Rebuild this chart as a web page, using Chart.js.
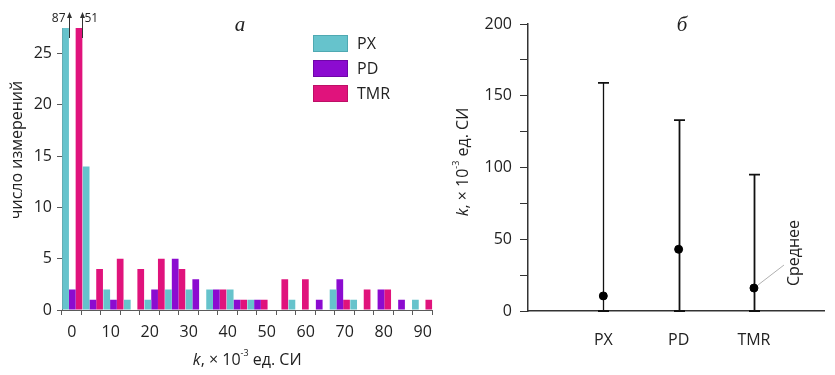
<!DOCTYPE html>
<html lang="ru">
<head>
<meta charset="UTF-8">
<title>Магнитная восприимчивость</title>
<script src="https://cdn.jsdelivr.net/npm/chart.js@4.4.0/dist/chart.umd.min.js"></script>
<style>
    body { margin: 0; background: #fff; }
    .box { position: absolute; top: 0; height: 375px; }
    #left { left: 0; width: 440px; }
    #right { left: 440px; width: 395px; }
</style>
</head>
<body>
<div class="box" id="left"><canvas id="grafHist" width="440" height="375"></canvas></div>
<div class="box" id="right"><canvas id="grafRango" width="395" height="375"></canvas></div>

<script>
// --- данные гистограммы (а) ---
const binStarts = [0, 5, 10, 15, 20, 25, 30, 35, 40, 45, 50, 55, 60, 65, 70, 75, 80, 85];
const seriesNames = ['PX', 'PD', 'TMR'];
const countsPX  = [87, 14, 2, 1, 1, 2, 2, 2, 2, 1, 0, 1, 0, 2, 1, 0, 0, 1];
const countsPD  = [2, 1, 1, 0, 2, 5, 3, 2, 1, 1, 0, 0, 1, 3, 0, 2, 1, 0];
const countsTMR = [51, 4, 5, 4, 5, 4, 0, 2, 1, 1, 3, 3, 0, 1, 2, 2, 0, 1];
const histXMax = 90;
const histYMax = 27.5;

// --- данные диаграммы размаха (б) ---
const groups = ['PX', 'PD', 'TMR'];
const meanK = [10.5, 43, 16];
const maxK  = [159, 133, 95];
const minK  = [0, 0, 0];

const colores = ['#66c3cc', '#8c0bd0', '#e0137c'];
const bordes  = ['#4fa9b2', '#6e06a8', '#bd0f66'];
const FONT = "'Open Sans', 'Noto Sans', sans-serif";

// подпись "k, × 10^-3 ед. СИ" с курсивной k и степенью
function drawKTitle(ctx, cx, cy, rotated) {
    const parts = [
        { t: 'k', f: 'italic 16px ' + FONT, dy: 0 },
        { t: ', × 10', f: '16px ' + FONT, dy: 0 },
        { t: '-3', f: '9px ' + FONT, dy: -7 },
        { t: ' ед. СИ', f: '16px ' + FONT, dy: 0 }
    ];
    ctx.save();
    let total = 0;
    parts.forEach(p => { ctx.font = p.f; p.w = ctx.measureText(p.t).width; total += p.w; });
    ctx.translate(cx, cy);
    if (rotated) ctx.rotate(-Math.PI / 2);
    ctx.fillStyle = '#222';
    ctx.textBaseline = 'middle';
    let x = -total / 2;
    parts.forEach(p => {
        ctx.font = p.f;
        ctx.fillText(p.t, x, p.dy);
        x += p.w;
    });
    ctx.restore();
}

function drawRotated(ctx, text, cx, cy, font) {
    ctx.save();
    ctx.translate(cx, cy);
    ctx.rotate(-Math.PI / 2);
    ctx.font = font;
    ctx.fillStyle = '#222';
    ctx.textAlign = 'center';
    ctx.textBaseline = 'middle';
    ctx.fillText(text, 0, 0);
    ctx.restore();
}

function drawPanelLetter(ctx, letter, x, y) {
    ctx.save();
    ctx.font = "italic 21px 'Liberation Serif', 'DejaVu Serif', serif";
    ctx.fillStyle = '#222';
    ctx.textAlign = 'center';
    ctx.textBaseline = 'middle';
    ctx.fillText(letter, x, y);
    ctx.restore();
}

// плагин для гистограммы: стрелки у обрезанных столбцов, легенда, подписи
const histExtras = {
    id: 'histExtras',
    afterDatasetsDraw(chart) {
        const ctx = chart.ctx;
        const top = chart.chartArea.top;
        ctx.save();
        chart.data.datasets.forEach((ds, di) => {
            const meta = chart.getDatasetMeta(di);
            ds.data.forEach((v, i) => {
                if (v <= histYMax) return;
                const el = meta.data[i];
                const ax = Math.round(el.x + el.width / 2) + 0.5;
                ctx.strokeStyle = '#333';
                ctx.fillStyle = '#333';
                ctx.lineWidth = 1;
                ctx.beginPath();
                ctx.moveTo(ax, top + 10);
                ctx.lineTo(ax, top - 13);
                ctx.stroke();
                ctx.beginPath();
                ctx.moveTo(ax, top - 16);
                ctx.lineTo(ax - 2.5, top - 10);
                ctx.lineTo(ax + 2.5, top - 10);
                ctx.closePath();
                ctx.fill();
                ctx.font = '12px ' + FONT;
                ctx.fillStyle = '#222';
                ctx.textBaseline = 'middle';
                if (di === 0) {
                    ctx.textAlign = 'right';
                    ctx.fillText(String(v), ax - 4, top - 9);
                } else {
                    ctx.textAlign = 'left';
                    ctx.fillText(String(v), ax + 2, top - 9);
                }
            });
        });
        ctx.restore();
    },
    afterDraw(chart) {
        const ctx = chart.ctx;
        const area = chart.chartArea;
        // легенда
        ctx.save();
        chart.data.datasets.forEach((ds, i) => {
            const y = 35 + i * 25;
            ctx.fillStyle = ds.backgroundColor;
            ctx.fillRect(313, y, 35, 17);
            ctx.strokeStyle = ds.borderColor;
            ctx.lineWidth = 1;
            ctx.strokeRect(313.5, y + 0.5, 34, 16);
            ctx.font = '16px ' + FONT;
            ctx.fillStyle = '#222';
            ctx.textAlign = 'left';
            ctx.textBaseline = 'middle';
            ctx.fillText(ds.label, 357, y + 9);
        });
        ctx.restore();
        drawRotated(ctx, 'число измерений', 17.5, 150, '16px ' + FONT);
        drawKTitle(ctx, (area.left + area.right) / 2, 360, false);
        drawPanelLetter(ctx, 'а', 240, 25);
    }
};

// плагин для (б): вертикальные отрезки min–max с засечками, подписи
const rangeExtras = {
    id: 'rangeExtras',
    beforeDatasetsDraw(chart) {
        const ctx = chart.ctx;
        const xs = chart.scales.x, ys = chart.scales.y;
        ctx.save();
        ctx.strokeStyle = '#111';
        groups.forEach((g, i) => {
            const x = Math.round(xs.getPixelForValue(i + 1)) + 0.5;
            const y1 = ys.getPixelForValue(minK[i]);
            const y2 = ys.getPixelForValue(maxK[i]);
            ctx.lineWidth = i === 0 ? 1.3 : 1.8;
            ctx.beginPath();
            ctx.moveTo(x, y1);
            ctx.lineTo(x, y2);
            ctx.stroke();
            ctx.lineWidth = 1.8;
            ctx.beginPath();
            ctx.moveTo(x - 5.5, y2);
            ctx.lineTo(x + 5.5, y2);
            ctx.moveTo(x - 5.5, y1);
            ctx.lineTo(x + 5.5, y1);
            ctx.stroke();
        });
        ctx.restore();
    },
    afterDraw(chart) {
        const ctx = chart.ctx;
        const xs = chart.scales.x, ys = chart.scales.y;
        const last = groups.length - 1;
        const px = xs.getPixelForValue(last + 1);
        const py = ys.getPixelForValue(meanK[last]);
        ctx.save();
        ctx.strokeStyle = '#b0b0b0';
        ctx.lineWidth = 1;
        ctx.beginPath();
        ctx.moveTo(px + 4, py - 3);
        ctx.lineTo(px + 30, py - 23);
        ctx.stroke();
        ctx.restore();
        drawRotated(ctx, 'Среднее', px + 40, py - 35, '16px ' + FONT);
        drawKTitle(ctx, 23, 162, true);
        drawPanelLetter(ctx, 'б', 242, 25);
    }
};

const histDatasets = [countsPX, countsPD, countsTMR].map((d, i) => ({
    label: seriesNames[i],
    data: d,
    backgroundColor: colores[i],
    borderColor: bordes[i],
    borderWidth: 0,
    barPercentage: 1,
    categoryPercentage: 0.98,
    clip: 0
}));

new Chart(document.getElementById('grafHist'), {
    type: 'bar',
    data: { labels: binStarts, datasets: histDatasets },
    options: {
        responsive: false,
        animation: false,
        layout: { padding: { top: 28, right: 5, left: 0, bottom: 0 } },
        plugins: { legend: { display: false }, tooltip: { enabled: false } },
        scales: {
            x: { type: 'category', display: false, offset: true },
            x2: {
                type: 'linear',
                position: 'bottom',
                min: 0,
                max: histXMax,
                afterFit: s => { s.height = 65; },
                border: { display: true, color: '#5a5a5a', width: 1 },
                grid: { drawOnChartArea: false, tickLength: 5, color: '#5a5a5a' },
                ticks: {
                    stepSize: 5,
                    autoSkip: false,
                    maxRotation: 0,
                    padding: 8,
                    color: '#222',
                    font: { family: FONT, size: 16 },
                    callback: v => (v % 10 === 0 ? v : '')
                }
            },
            y: {
                min: 0,
                max: histYMax,
                afterFit: s => { s.width = 62; },
                border: { display: true, color: '#5a5a5a', width: 1 },
                grid: { drawOnChartArea: false, tickLength: 5, color: '#5a5a5a' },
                ticks: {
                    stepSize: 5,
                    includeBounds: false,
                    padding: 5,
                    color: '#222',
                    font: { family: FONT, size: 16 }
                }
            }
        }
    },
    plugins: [histExtras]
});

new Chart(document.getElementById('grafRango'), {
    type: 'scatter',
    data: {
        datasets: [{
            label: 'Среднее',
            data: groups.map((g, i) => ({ x: i + 1, y: meanK[i] })),
            backgroundColor: '#000',
            borderColor: '#000',
            pointRadius: 4,
            clip: false
        }]
    },
    options: {
        responsive: false,
        animation: false,
        layout: { padding: { top: 24, right: 11, left: 0, bottom: 0 } },
        plugins: { legend: { display: false }, tooltip: { enabled: false } },
        scales: {
            x: {
                type: 'linear',
                min: 0,
                max: 3.93,
                afterFit: s => { s.height = 64; },
                border: { display: true, color: '#333', width: 1.5 },
                grid: { display: false },
                ticks: {
                    stepSize: 1,
                    includeBounds: false,
                    autoSkip: false,
                    maxRotation: 0,
                    padding: 12,
                    color: '#222',
                    font: { family: FONT, size: 16 },
                    callback: v => groups[v - 1] || ''
                }
            },
            y: {
                min: 0,
                max: 200,
                afterFit: s => { s.width = 88; },
                border: { display: true, color: '#333', width: 1.5 },
                grid: { drawOnChartArea: false, tickLength: 8, color: '#333' },
                ticks: {
                    stepSize: 25,
                    padding: 8,
                    color: '#222',
                    font: { family: FONT, size: 16 },
                    callback: v => (v % 50 === 0 ? v : '')
                }
            }
        }
    },
    plugins: [rangeExtras]
});
</script>
</body>
</html>
